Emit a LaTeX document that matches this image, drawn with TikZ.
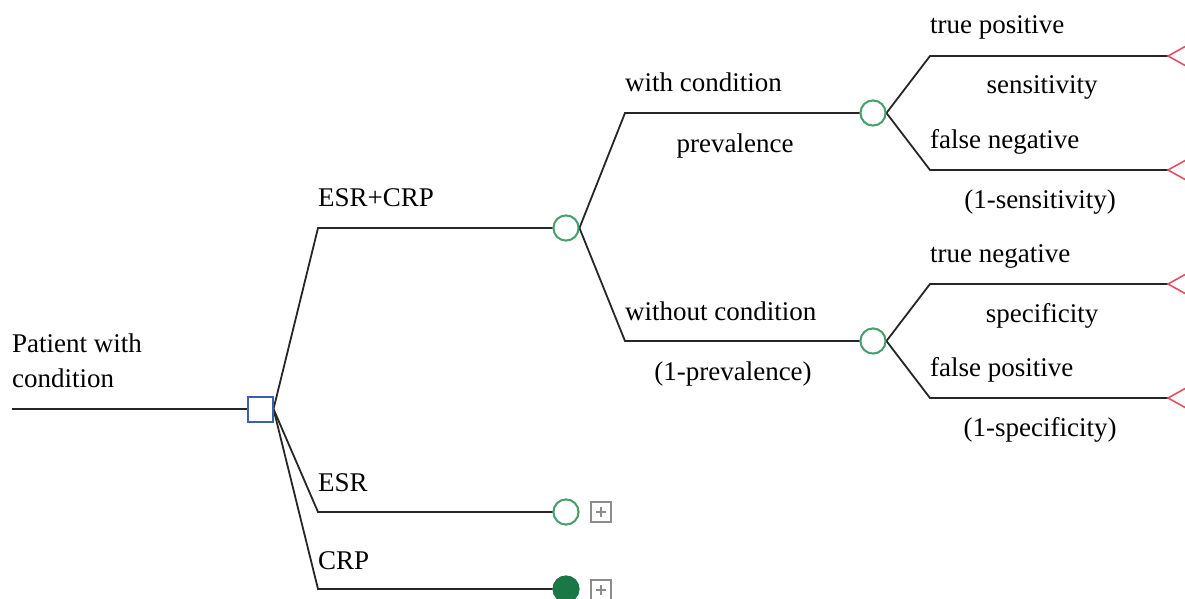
\documentclass[tikz,border=0pt]{standalone}
\usepackage{fontspec}
\setmainfont{Liberation Serif}
\definecolor{chgreen}{RGB}{70,160,110}
\definecolor{chfill}{RGB}{25,120,70}
\definecolor{decblue}{RGB}{60,95,175}
\definecolor{termred}{RGB}{225,80,100}
\definecolor{boxgray}{RGB}{140,140,140}
\begin{document}
\begin{tikzpicture}[x=1pt,y=-1pt,
  every node/.style={font=\fontsize{27}{32}\selectfont},
  ln/.style={line width=1.8pt, black!85},
  chance/.style={circle, draw=chgreen, line width=1.9pt, minimum size=25pt, inner sep=0pt, fill=white},
  chancefilled/.style={circle, draw=chfill, line width=1.9pt, minimum size=25pt, inner sep=0pt, fill=chfill},
  decision/.style={rectangle, draw=decblue, line width=2pt, minimum size=25pt, inner sep=0pt, fill=white},
  plusbox/.style={rectangle, draw=boxgray, line width=1.6pt, minimum size=20pt, inner sep=0pt,
    path picture={\draw[boxgray, line width=1.6pt] ([xshift=-5pt]path picture bounding box.center) -- ([xshift=5pt]path picture bounding box.center)
      ([yshift=-5pt]path picture bounding box.center) -- ([yshift=5pt]path picture bounding box.center);}},
  term/.style={draw=termred, line width=1.6pt},
  lbl/.style={inner sep=0pt, anchor=base west},
  clbl/.style={inner sep=0pt, anchor=base}
]
\useasboundingbox (0,0) rectangle (1185,599);

% nodes
\coordinate (root) at (12,409);
\node[decision] (dec) at (260,409) {};
\node[chance] (c1) at (566,228) {};
\node[chance] (c2) at (873,113) {};
\node[chance] (c3) at (873,341) {};
\node[chance] (c4) at (566,512) {};
\node[chancefilled] (c5) at (566,589) {};
\node[plusbox] (p4) at (601,512) {};
\node[plusbox] (p5) at (601,590) {};

% bend points
\coordinate (b1) at (318,228);
\coordinate (b4) at (318,512);
\coordinate (b5) at (318,589);
\coordinate (b2) at (625,113);
\coordinate (b3) at (625,341);
\coordinate (b21) at (930,56);
\coordinate (b22) at (930,170);
\coordinate (b31) at (930,284);
\coordinate (b32) at (930,398);
% terminals
\coordinate (t21) at (1168,56);
\coordinate (t22) at (1168,170);
\coordinate (t31) at (1168,284);
\coordinate (t32) at (1168,398);

% connectors
\draw[ln] (root) -- (dec.west);
\draw[ln] (dec.east) -- (b1) -- (c1.west);
\draw[ln] (dec.east) -- (b4) -- (c4.west);
\draw[ln] (dec.east) -- (b5) -- (c5.west);
\draw[ln] (c1.east) -- (b2) -- (c2.west);
\draw[ln] (c1.east) -- (b3) -- (c3.west);
\draw[ln] (c2.east) -- (b21) -- (t21);
\draw[ln] (c2.east) -- (b22) -- (t22);
\draw[ln] (c3.east) -- (b31) -- (t31);
\draw[ln] (c3.east) -- (b32) -- (t32);

% redraw nodes on top
\node[decision] at (dec) {};
\node[chance] at (c1) {};
\node[chance] at (c2) {};
\node[chance] at (c3) {};
\node[chance] at (c4) {};
\node[chancefilled] at (c5) {};

% terminals
\foreach \t in {t21,t22,t31,t32}{
  \draw[term] (\t) ++(18,-10) -- (\t) -- ++(18,10);
}

% labels
\node[lbl] (lroot1) at (12,352) {Patient with};
\node[lbl] (lroot2) at (12,387) {condition};
\node[lbl] (lesrcrp) at (318,206) {ESR+CRP};
\node[lbl] (lesr) at (318,491) {ESR};
\node[lbl] (lcrp) at (318,569) {CRP};
\node[lbl] (lwith) at (625,92) {with condition};
\node[clbl] (lprev) at (735,152) {prevalence};
\node[lbl] (lwithout) at (625,320) {without condition};
\node[clbl] (lnprev) at (733,380) {(1-prevalence)};
\node[lbl] (ltp) at (930,34) {true positive};
\node[clbl] (lsens) at (1042,94) {sensitivity};
\node[lbl] (lfn) at (930,148) {false negative};
\node[clbl] (lnsens) at (1040,208) {(1-sensitivity)};
\node[lbl] (ltn) at (930,262) {true negative};
\node[clbl] (lspec) at (1042,322) {specificity};
\node[lbl] (lfp) at (930,376) {false positive};
\node[clbl] (lnspec) at (1040,436) {(1-specificity)};
\end{tikzpicture}
\end{document}
